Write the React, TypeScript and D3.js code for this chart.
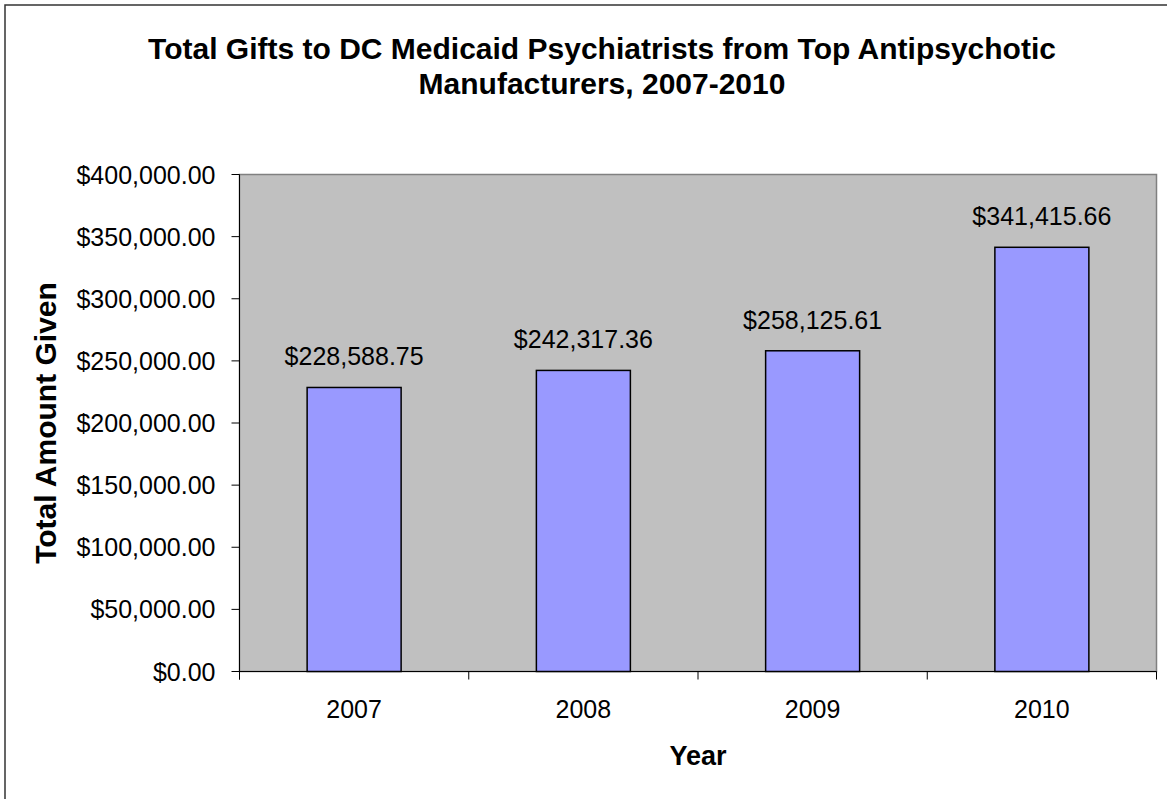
import React from "react";
import * as d3 from "d3";

const years = ["2007", "2008", "2009", "2010"];
const totals = [228588.75, 242317.36, 258125.61, 341415.66];
const yTicks = [0, 50000, 100000, 150000, 200000, 250000, 300000, 350000, 400000];
const titleLines = [
  "Total Gifts to DC Medicaid Psychiatrists from Top Antipsychotic",
  "Manufacturers, 2007-2010",
];

const W = 1167;
const H = 799;
const plot = { left: 239.5, right: 1156.5, top: 174.5, bottom: 671.5 };
const FONT = "Arial, 'Liberation Sans', sans-serif";

export default function App() {
  const x = d3
    .scaleBand<string>()
    .domain(years)
    .range([plot.left, plot.right])
    .paddingInner(0.59)
    .paddingOuter(0.295);
  const xOuter = d3.scaleBand<string>().domain(years).range([plot.left, plot.right]);
  const y = d3.scaleLinear().domain([0, 400000]).range([plot.bottom, plot.top]);
  const money = (v: number) => "$" + d3.format(",.2f")(v);
  const bounds = years.map((yr) => xOuter(yr) as number).concat([plot.right]);

  return (
    <div style={{ position: "absolute", left: 0, top: 0 }}>
      <svg width={W} height={H} style={{ display: "block", background: "#fff" }}>
        <rect x={5} y={5} width={1200} height={1000} fill="#fff" stroke="#333" strokeWidth={1.5} />
        {titleLines.map((t, i) => (
          <text
            key={i}
            x={602}
            y={59 + i * 35}
            textAnchor="middle"
            fontFamily={FONT}
            fontWeight="bold"
            fontSize={30}
            fill="#000"
          >
            {t}
          </text>
        ))}
        <rect
          x={plot.left}
          y={plot.top}
          width={plot.right - plot.left}
          height={plot.bottom - plot.top}
          fill="#C0C0C0"
          stroke="#808080"
          strokeWidth={1.5}
        />
        {years.map((yr, i) => (
          <rect
            key={yr}
            x={x(yr)}
            y={y(totals[i])}
            width={x.bandwidth()}
            height={plot.bottom - y(totals[i])}
            fill="#9999FF"
            stroke="#000"
            strokeWidth={1.5}
          />
        ))}
        {years.map((yr, i) => (
          <text
            key={"l" + yr}
            x={(x(yr) as number) + x.bandwidth() / 2}
            y={y(totals[i]) - 22}
            textAnchor="middle"
            fontFamily={FONT}
            fontSize={25}
            fill="#000"
          >
            {money(totals[i])}
          </text>
        ))}
        {/* axes */}
        <line x1={plot.left} x2={plot.left} y1={plot.top} y2={plot.bottom + 8} stroke="#000" strokeWidth={1} />
        <line x1={plot.left} x2={plot.right} y1={plot.bottom} y2={plot.bottom} stroke="#000" strokeWidth={1} />
        {yTicks.map((t) => (
          <g key={t}>
            <line x1={plot.left - 8} x2={plot.left} y1={y(t)} y2={y(t)} stroke="#000" strokeWidth={1} />
            <text
              x={plot.left - 24}
              y={y(t)}
              dy="0.36em"
              textAnchor="end"
              fontFamily={FONT}
              fontSize={25}
              fill="#000"
            >
              {money(t)}
            </text>
          </g>
        ))}
        {bounds.map((b, i) => (
          <line key={"xt" + i} x1={b} x2={b} y1={plot.bottom} y2={plot.bottom + 8} stroke="#000" strokeWidth={1} />
        ))}
        {years.map((yr) => (
          <text
            key={"xl" + yr}
            x={(xOuter(yr) as number) + xOuter.bandwidth() / 2}
            y={718}
            textAnchor="middle"
            fontFamily={FONT}
            fontSize={25}
            fill="#000"
          >
            {yr}
          </text>
        ))}
        <text
          x={698}
          y={765}
          textAnchor="middle"
          fontFamily={FONT}
          fontWeight="bold"
          fontSize={27}
          fill="#000"
        >
          Year
        </text>
        <text
          transform={`translate(56, ${(plot.top + plot.bottom) / 2}) rotate(-90)`}
          textAnchor="middle"
          fontFamily={FONT}
          fontWeight="bold"
          fontSize={30}
          fill="#000"
        >
          Total Amount Given
        </text>
      </svg>
    </div>
  );
}
